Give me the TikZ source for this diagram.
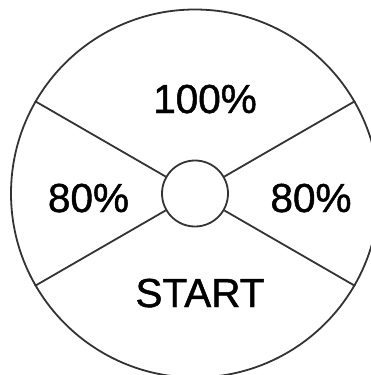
\documentclass[tikz,border=0pt]{standalone}
\usepackage{fontspec}
\setmainfont{Liberation Sans}
\newfontfamily\lblfont[FakeBold=1.2]{Liberation Sans}
\begin{document}
\begin{tikzpicture}[x=1pt,y=-1pt,
  ring/.style={draw=black!80,line width=1.8pt,circle,inner sep=0pt},
  spoke/.style={draw=black!80,line width=1.8pt},
  lbl/.style={anchor=base,inner sep=0pt,font=\lblfont\fontsize{40.5}{44}\selectfont}]
\useasboundingbox (0,0) rectangle (371,375);
\node[ring,minimum size=368pt] (big) at (195,193.5) {};
\node[ring,minimum size=66pt] (hub) at (195,193.5) {};
\draw[spoke] (hub.150) -- (big.150);
\draw[spoke] (hub.30) -- (big.30);
\draw[spoke] (hub.-150) -- (big.-150);
\draw[spoke] (hub.-30) -- (big.-30);
\node[lbl] (top) at (205,113) {100\%};
\node[lbl] (left) at (88.5,212) {80\%};
\node[lbl] (right) at (311,212) {80\%};
\node[lbl] (start) at (200,307) {START};
\end{tikzpicture}
\end{document}
